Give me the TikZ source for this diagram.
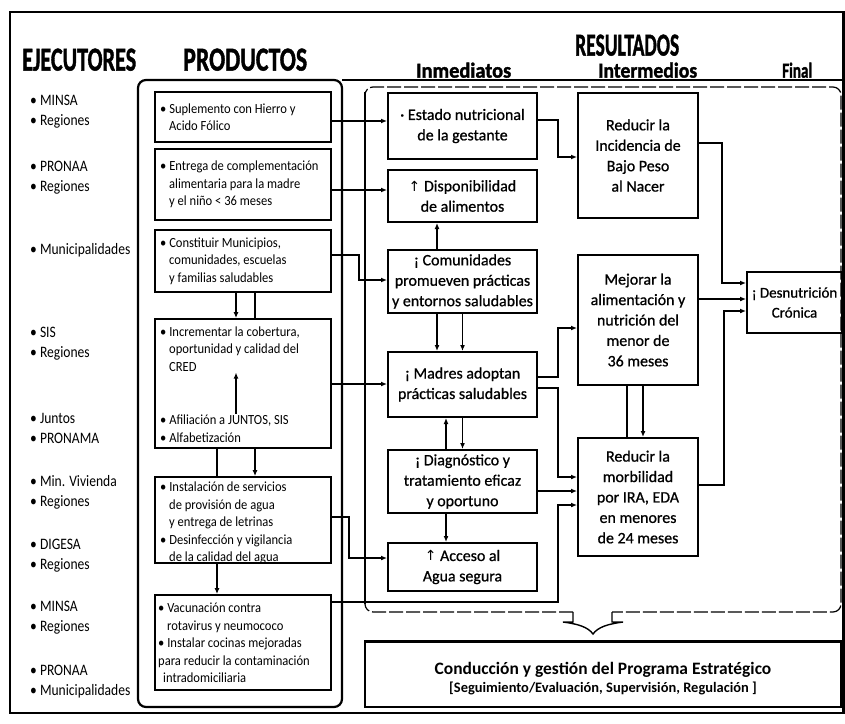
\documentclass[tikz,border=0pt]{standalone}
\usepackage{fontspec}
\usepackage{graphicx}
\setmainfont{Carlito}
\newfontfamily\condA[FakeStretch=0.85]{Carlito}
\newfontfamily\condB[FakeStretch=0.9]{Carlito}
\newfontfamily\resfam[FakeBold=0.8]{Carlito}
\newfontfamily\hdfam[FakeBold=1.5]{Carlito}
\newfontfamily\symfont{DejaVu Sans}
\usetikzlibrary{arrows.meta,calc}
\newcommand\exfont{\condA\fontsize{16}{20}\selectfont}
\newcommand\prfont{\condB\fontsize{14}{17.5}\selectfont}
\newcommand\rsfont{\resfam\fontsize{16}{20.5}\selectfont}
\newcommand\uparr{{\symfont\fontsize{14}{14}\selectfont ↑}}
\newcommand\bul{\textbullet\ }
\newcommand\hin{\hspace*{9bp}}
\tikzset{
  hdr/.style={inner sep=0pt, anchor=south west},
  pboxx/.style={draw, line width=1.8bp, minimum width=176bp, inner sep=0pt},
  ptext/.style={anchor=west, align=left, font=\prfont, inner sep=1bp},
  rbox/.style={draw, line width=2bp, align=center, font=\rsfont, inner xsep=2bp, inner ysep=1bp},
  etext/.style={anchor=west, align=left, font=\exfont, inner sep=0pt},
  arr/.style={line width=1.6bp, -{Latex[length=6bp,width=5bp]}},
  ln/.style={line width=1.6bp},
}
\begin{document}
\begin{tikzpicture}[x=1bp,y=-1bp]
\useasboundingbox (0,0) rectangle (845,724);
\fill[white] (0,0) rectangle (845,724);
% outer frame
\draw[line width=2.6bp] (10,12) rectangle (843.5,713);
% headers
\node[hdr] (hEje) at (22,71) {\resizebox{114bp}{22bp}{\hdfam\bfseries EJECUTORES}};
\node[hdr] (hPro) at (183,71) {\resizebox{124bp}{22bp}{\hdfam\bfseries PRODUCTOS}};
\node[hdr] (hRes) at (575,56) {\resizebox{104bp}{21bp}{\hdfam\bfseries RESULTADOS}};
\node[hdr] (hInm) at (416,78) {\resizebox{95bp}{15bp}{\hdfam\bfseries Inmediatos}};
\node[hdr] (hInt) at (598,78) {\resizebox{99bp}{15bp}{\hdfam\bfseries Intermedios}};
\node[hdr] (hFin) at (782,78) {\resizebox{30bp}{15bp}{\hdfam\bfseries Final}};
% frames
\draw[line width=2.2bp, rounded corners=8bp] (342,80) -- (138,80) -- (138,707) -- (342,707) -- cycle;
\draw[line width=2.4bp] (342,80) -- (843.5,80);
\draw[line width=1.2bp, dash pattern=on 14bp off 3bp, rounded corners=8bp]
  (573,612) -- (365,612) -- (365,87) -- (841,87) -- (841,612) -- (612,612);
\draw[line width=2.6bp] (365,92) -- (365,604);
\draw[line width=1.4bp] (573,612) -- (573,622) -- (563,622)
  .. controls (578,624) and (588,627) .. (593,634)
  .. controls (598,627) and (608,624) .. (623,622) -- (612,622) -- (612,612);
% conduccion
\node[draw, line width=1.4bp, minimum width=476bp, minimum height=65bp, inner sep=0pt] (cbox) at (603,674.5) {};
\draw[line width=2.4bp] (cbox.north west) -- (cbox.north east);
\node[align=center, font=\bfseries\fontsize{17.5}{18.5}\selectfont] (ctext) at (603,678.5)
  {Conducción y gestión del Programa Estratégico\\{\fontsize{14.5}{15.5}\selectfont [Seguimiento/Evaluación, Supervisión, Regulación ]}};
% executors
\node[etext] (e1) at (30,112) {\bul MINSA\\\bul Regiones};
\node[etext] (e2) at (30,177.5) {\bul PRONAA\\\bul Regiones};
\node[etext] (e3) at (30,250) {\bul Municipalidades};
\node[etext] (e4) at (30,343.5) {\bul SIS\\\bul Regiones};
\node[etext] (e5) at (30,428) {\bul Juntos\\\bul PRONAMA};
\node[etext] (e6) at (30,492.5) {\bul Min. Vivienda\\\bul Regiones};
\node[etext] (e7) at (30,555.5) {\bul DIGESA\\\bul Regiones};
\node[etext] (e8) at (30,618) {\bul MINSA\\\bul Regiones};
\node[etext] (e9) at (30,681.5) {\bul PRONAA\\\bul Municipalidades};
% product boxes
\node[pboxx, minimum height=50bp] (p1) at (243,117) {};
\node[pboxx, minimum height=71bp] (p2) at (243,184.5) {};
\node[pboxx, minimum height=62bp] (p3) at (243,261) {};
\node[pboxx, minimum height=129bp] (p4) at (243,383.5) {};
\node[pboxx, minimum height=86bp] (p5) at (243,520) {};
\node[pboxx, minimum height=95bp] (p6) at (243,642.5) {};
\node[ptext] (p1t) at (159,117) {\bul Suplemento con Hierro y\\\hin Acido Fólico};
\node[ptext] (p2t) at (159,184.5) {\bul Entrega de complementación\\\hin alimentaria para la madre\\\hin y el niño < 36 meses};
\node[ptext] (p3t) at (159,261) {\bul Constituir Municipios,\\\hin comunidades, escuelas\\\hin y familias saludables};
\node[ptext] (p4a) at (159,349) {\bul Incrementar la cobertura,\\\hin oportunidad y calidad del\\\hin CRED};
\node[ptext] (p4b) at (159,428.5) {\bul Afiliación a JUNTOS, SIS\\\bul Alfabetización};
\node[ptext] (p5t) at (159,523) {\bul Instalación de servicios\\\hin de provisión de agua\\\hin y entrega de letrinas\\\bul Desinfección y vigilancia\\\hin de la calidad del agua};
\node[ptext] (p6t) at (157,643) {\bul Vacunación contra\\\hin rotavirus y neumococo\\\bul Instalar cocinas mejoradas\\para reducir la contaminación\\\hspace*{5bp}intradomiciliaria};
\coordinate (ax4) at (236,0);
\draw[arr] (p4b.north -| ax4) -- (p4a.south -| ax4);
% result boxes
\node[rbox, minimum width=149bp, minimum height=66bp] (i1) at (462.5,126) {\textperiodcentered\ Estado nutricional\\de la gestante};
\node[rbox, minimum width=149bp, minimum height=52bp] (i2) at (462.5,196) {\uparr\ Disponibilidad\\de alimentos};
\node[rbox, minimum width=149bp, minimum height=63bp] (i3) at (462.5,281.5) {¡ Comunidades\\promueven prácticas\\y entornos saludables};
\node[rbox, minimum width=149bp, minimum height=65bp] (i4) at (462.5,384.5) {¡ Madres adoptan\\prácticas saludables};
\node[rbox, minimum width=149bp, minimum height=63bp] (i5) at (462.5,481.5) {¡ Diagnóstico y\\tratamiento eficaz\\y oportuno};
\node[rbox, minimum width=149bp, minimum height=48bp] (i6) at (462.5,567) {\uparr\ Acceso al\\Agua segura};
\node[rbox, minimum width=120bp, minimum height=125bp] (m1) at (638,155.5) {Reducir la\\Incidencia de\\Bajo Peso\\al Nacer};
\node[rbox, minimum width=120bp, minimum height=130bp] (m2) at (638,320) {Mejorar la\\alimentación y\\nutrición del\\menor de\\36 meses};
\node[rbox, minimum width=120bp, minimum height=118bp] (m3) at (638,497) {Reducir la\\morbilidad\\por IRA, EDA\\en menores\\de 24 meses};
\node[rbox, minimum width=95bp, minimum height=61bp, font=\resfam\fontsize{15}{20}\selectfont] (f) at (794.5,302.5) {¡ Desnutrición\\Crónica};
% connectors products -> results
\draw[arr] ($(p1.east)+(0,4)$) -- ($(i1.west)+(0,-5)$);
\draw[arr] ($(p2.east)+(0,5.5)$) -- ($(i2.west)+(0,-6)$);
\draw[arr] ($(p3.east)+(0,-6)$) -- ++(27,0) |- ($(i3.west)+(0,-1.5)$);
\draw[arr] ($(p4.east)+(0,0.5)$) -- ($(i4.west)+(0,-0.5)$);
\draw[arr] ($(p5.east)+(0,-3)$) -- ++(17,0) |- ($(i6.west)+(0,-9)$);
\draw[arr] ($(p6.east)+(0,-40.5)$) -- ++(226,0) |- ($(m3.west)+(0,8)$);
% immediate -> intermediate
\draw[arr] ($(i1.east)+(0,-6)$) -- ++(20,0) |- ($(m1.west)+(0,1.5)$);
\draw[arr] ($(i4.east)+(0,-7.5)$) -- ++(20,0) |- ($(m2.west)+(0,8)$);
\draw[arr] ($(i4.east)+(0,3.5)$) -- ++(20,0) |- ($(m3.west)+(0,-20)$);
\draw[arr] ($(i5.east)+(0,9.5)$) -- ($(m3.west)+(0,-6)$);
% intermediate -> final
\draw[arr] ($(m1.east)+(0,-12.5)$) -- ++(23,0) |- ($(f.west)+(0,-19.5)$);
\draw[arr] ($(m2.east)+(0,-21)$) -- ($(f.west)+(0,-3.5)$);
\draw[arr] ($(m3.east)+(0,-12)$) -- ++(25,0) |- ($(f.west)+(0,8.5)$);
% vertical links
\draw[arr] ([xshift=-7bp]p3.south) -- ([xshift=-7bp]p4.north);
\draw[ln] ([xshift=12bp]p3.south) -- ([xshift=12bp]p4.north);
\draw[ln] ([xshift=-26bp]p4.south) -- ([xshift=-26bp]p5.north);
\draw[arr] ([xshift=12bp]p4.south) -- ([xshift=12bp]p5.north);
\draw[arr] ([xshift=-26bp]p5.south) -- ([xshift=-26bp]p6.north);
\draw[arr] ([xshift=-25.5bp]i3.north) -- ([xshift=-25.5bp]i2.south);
\draw[arr] ([xshift=-25.5bp]i3.south) -- ([xshift=-25.5bp]i4.north);
\draw[arr] (i3.south) -- (i4.north);
\draw[arr] ([xshift=-16.5bp]i5.north) -- ([xshift=-16.5bp]i4.south);
\draw[arr] (i4.south) -- (i5.north);
\draw[arr] ([xshift=-16.5bp]i5.south) -- ([xshift=-16.5bp]i6.north);
\draw[ln] ([xshift=-11bp]m2.south) -- ([xshift=-11bp]m3.north);
\draw[arr] ([xshift=5bp]m2.south) -- ([xshift=5bp]m3.north);
\end{tikzpicture}
\end{document}
